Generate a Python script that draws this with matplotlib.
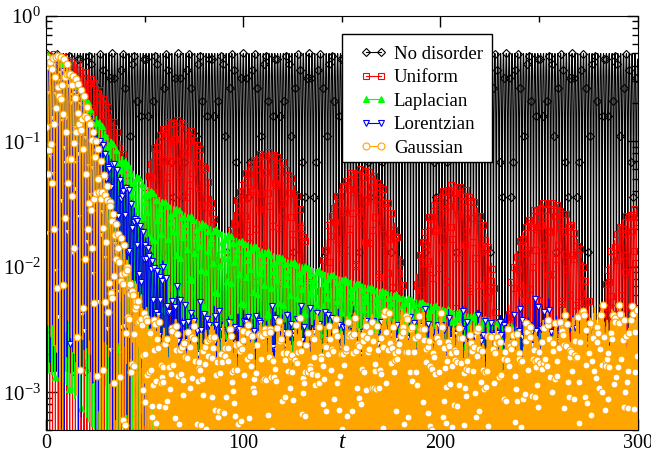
import numpy as np
import matplotlib.pyplot as plt
from matplotlib.patches import Rectangle
from matplotlib.ticker import MultipleLocator, LogLocator, NullFormatter

plt.rcParams['font.family'] = ['Liberation Serif', 'DejaVu Serif']
plt.rcParams['mathtext.fontset'] = 'stix'

# time grid and the fast oscillation of the probability
t = np.arange(0, 300.0001, 0.05)
omega = np.pi / 1.45

# envelope knots (time, value)
knot_t = [0, 10, 20, 30, 40, 50, 60, 70, 80, 100, 125, 150, 175, 200, 225, 250, 275, 300]

# uniform disorder: revival peaks and the zeros between them
uni_peak_t = [0, 65, 112, 160, 207, 255, 300]
uni_peak_v = [0.5, 0.15, 0.083, 0.06, 0.045, 0.033, 0.029]
uni_zero_t = [46, 89, 136, 184, 231, 279]

lap_top = [0.5, 0.40, 0.22, 0.12, 0.07, 0.045, 0.033, 0.027, 0.022, 0.016,
           0.011, 0.0082, 0.0062, 0.0048, 0.0038, 0.0029, 0.0023, 0.002]
lor_top = [0.5, 0.34, 0.17, 0.085, 0.045, 0.016, 0.005, 0.0015, 5e-4, 1e-4,
           2e-5, 1e-5, 1e-5, 1e-5, 1e-5, 1e-5, 1e-5, 1e-5]
lor_floor = [0.005, 0.005, 0.005, 0.005, 0.005, 0.0055, 0.006, 0.0058, 0.0055, 0.0055,
             0.0058, 0.0052, 0.005, 0.0052, 0.0048, 0.0068, 0.004, 0.0035]
gau_top = [0.5, 0.46, 0.22, 0.05, 0.011, 0.002, 3e-4, 5e-5, 1e-5, 1e-5,
           1e-5, 1e-5, 1e-5, 1e-5, 1e-5, 1e-5, 1e-5, 1e-5]
gau_floor = [0.0042, 0.0042, 0.0042, 0.0042, 0.0042, 0.0043, 0.004, 0.004, 0.0038, 0.004,
             0.004, 0.0045, 0.005, 0.0044, 0.0036, 0.0042, 0.0056, 0.0054]


def log_interp(x, xp, fp):
    return 10 ** np.interp(x, xp, np.log10(fp))


def wobble(x, freqs, phases, depth):
    # slow irregular factor between 1 - depth and 1
    s = sum(np.cos(f * x + p) for f, p in zip(freqs, phases))
    s = s / np.abs(s).max()
    return 1 - depth * (0.5 + 0.5 * s)


# no disorder
p_clean = 0.5 * np.cos(omega * t) ** 2

# uniform: lobes between zeros, each with its own peak height
phase_t = np.sort(np.concatenate([uni_peak_t, uni_zero_t]))
phase = np.interp(t, phase_t, np.arange(len(phase_t)) * np.pi / 2)
lobe = np.rint(phase / np.pi).astype(int)
env_uni = np.array(uni_peak_v)[lobe] * np.abs(np.cos(phase)) ** 1.3
p_uni = env_uni * np.cos(omega * t + 0.7) ** 2

# laplacian
p_lap = log_interp(t, knot_t, lap_top) * np.cos(omega * t + 1.3) ** 2

# lorentzian
lor_res = (log_interp(t, knot_t, lor_floor)
           * wobble(t, [0.9, 1.7, 2.6, 3.3], [0.2, 1.9, 0.7, 2.8], 0.7))
p_lor = (log_interp(t, knot_t, lor_top) * np.cos(omega * t + 0.4) ** 2
         + lor_res * np.cos(omega * t + 0.4 + 1.1 * np.sin(0.37 * t)) ** 2)

# gaussian
gau_res = (log_interp(t, knot_t, gau_floor)
           * wobble(t, [0.7, 1.3, 2.1, 2.9], [1.4, 0.3, 2.2, 0.9], 0.65))
p_gau = (log_interp(t, knot_t, gau_top) * np.cos(omega * t + 2.1) ** 2
         + gau_res * np.cos(11.7 * t + 3.0 * np.sin(0.53 * t)) ** 2)

fig = plt.figure(figsize=(6.51, 4.58), dpi=100)
ax = fig.add_axes([0.0707, 0.0611, 0.9086, 0.9046])

lw = 0.8
ax.plot(t, p_clean, color='black', lw=lw, marker='D', ms=4, mfc='none', mew=0.8,
        markevery=23, label='No disorder')
ax.plot(t, p_uni, color='red', lw=lw, marker='s', ms=4.5, mfc='none', mew=0.8,
        markevery=8, label='Uniform')
ax.plot(t, p_lap, color='#00ff00', lw=lw, marker='^', ms=5, mew=0.8,
        markevery=9, label='Laplacian')
ax.plot(t, p_lor, color='blue', lw=lw, marker='v', ms=5, mfc='white', mew=0.8,
        markevery=9, label='Lorentzian')
ax.plot(t, p_gau, color='orange', lw=lw, marker='o', ms=5, mfc='white', mew=0.8,
        markevery=7, label='Gaussian')

ax.set_yscale('log')
ax.set_xlim(0, 300)
ax.set_ylim(5e-4, 1)

ax.xaxis.set_major_locator(MultipleLocator(100))
ax.xaxis.set_minor_locator(MultipleLocator(50))
ax.yaxis.set_major_locator(LogLocator(base=10))
ax.yaxis.set_minor_locator(LogLocator(base=10, subs=np.arange(2, 10)))
ax.yaxis.set_minor_formatter(NullFormatter())
ax.tick_params(which='both', direction='in', top=True, right=True, labelsize=15)
ax.tick_params(which='major', length=8, width=1)
ax.tick_params(which='minor', length=4, width=1)
ax.tick_params(axis='x', pad=3, labelsize=14.5)

ax.set_xlabel('t', fontsize=17, style='italic')
ax.xaxis.set_label_coords(0.5, -0.005)

# legend with its own frame
ax.add_patch(Rectangle((0.4999, 0.648), 0.2541, 0.3068, transform=ax.transAxes,
                       facecolor='white', edgecolor='black', lw=1, zorder=4))
leg = ax.legend(loc='upper left', bbox_to_anchor=(0.531, 0.928), frameon=False,
                numpoints=2, handlelength=1.4, handletextpad=0.4, borderpad=0,
                borderaxespad=0, labelspacing=0.34, fontsize=13.5)
leg.set_zorder(5)

fig.savefig('out.png', dpi=100)
